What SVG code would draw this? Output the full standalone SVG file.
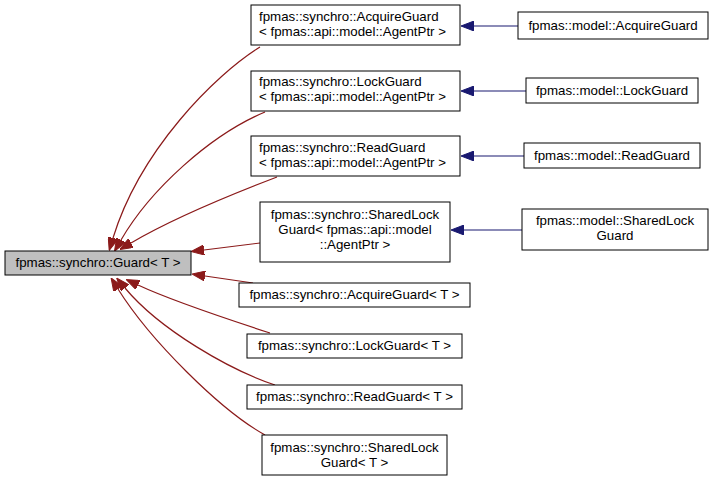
<svg xmlns="http://www.w3.org/2000/svg" width="712" height="481" viewBox="0 0 712 481">
<defs>
<style>
.n rect{fill:#fff;stroke:#000;stroke-width:1}
.n text{font-family:"Liberation Sans",Arial,sans-serif;font-size:13.3px;fill:#000}
.c{text-anchor:middle}
.e{fill:none;stroke-width:1.2}
.r{stroke:#8b1a1a;marker-end:url(#ar)}
.b{stroke:#191970;marker-end:url(#ab)}
</style>
<marker id="ar" viewBox="0 0 13 10" refX="0" refY="5" markerWidth="13" markerHeight="10" markerUnits="userSpaceOnUse" orient="auto"><path d="M0,0L13,5L0,10z" fill="#8b1a1a" stroke="#8b1a1a"/></marker>
<marker id="ab" viewBox="0 0 13 10" refX="0" refY="5" markerWidth="13" markerHeight="10" markerUnits="userSpaceOnUse" orient="auto"><path d="M0,0L13,5L0,10z" fill="#191970" stroke="#191970"/></marker>
</defs>
<rect width="712" height="481" fill="#fff"/>
<g id="connectors">
<path class="e r" d="M260,47C215,75 140,150 113,238"/>
<path class="e r" d="M265,112C210,135 150,190 121,240"/>
<path class="e r" d="M277,177C230,195 170,220 131,243"/>
<path class="e r" d="M260,243L204,250"/>
<path class="e r" d="M253,283L205,276"/>
<path class="e r" d="M270,333C230,320 170,300 138,285"/>
<path class="e r" d="M275,385C230,370 160,330 125,288"/>
<path class="e r" d="M265,435C220,410 150,340 118,289"/>
<path class="e b" d="M518,26L474,26"/>
<path class="e b" d="M526,91L474,91"/>
<path class="e b" d="M524,156L474,156"/>
<path class="e b" d="M522,230L464,230"/>
</g>
<g id="guard" class="n"><rect x="5" y="251" width="186" height="24" style="fill:#bfbfbf"/><text class="c" x="98" y="267">fpmas::synchro::Guard&lt; T &gt;</text></g>
<g id="acquire_agent" class="n"><rect x="251" y="5" width="209" height="40"/><text x="259" y="21">fpmas::synchro::AcquireGuard</text><text x="259" y="36">&lt; fpmas::api::model::AgentPtr &gt;</text></g>
<g id="lock_agent" class="n"><rect x="251" y="71" width="209" height="40"/><text x="259" y="86">fpmas::synchro::LockGuard</text><text x="259" y="101">&lt; fpmas::api::model::AgentPtr &gt;</text></g>
<g id="read_agent" class="n"><rect x="251" y="136" width="209" height="40"/><text x="259" y="152">fpmas::synchro::ReadGuard</text><text x="259" y="167">&lt; fpmas::api::model::AgentPtr &gt;</text></g>
<g id="shared_agent" class="n"><rect x="260" y="202" width="190" height="60"/><text class="c" x="355" y="219">fpmas::synchro::SharedLock</text><text class="c" x="355" y="234">Guard&lt; fpmas::api::model</text><text class="c" x="355" y="249">::AgentPtr &gt;</text></g>
<g id="acquire_t" class="n"><rect x="239" y="283" width="231" height="24"/><text class="c" x="354.5" y="299">fpmas::synchro::AcquireGuard&lt; T &gt;</text></g>
<g id="lock_t" class="n"><rect x="247" y="334" width="215" height="24"/><text class="c" x="354.5" y="350">fpmas::synchro::LockGuard&lt; T &gt;</text></g>
<g id="read_t" class="n"><rect x="247" y="385" width="215" height="24"/><text class="c" x="354.5" y="401">fpmas::synchro::ReadGuard&lt; T &gt;</text></g>
<g id="shared_t" class="n"><rect x="262" y="435" width="185" height="40"/><text class="c" x="354.5" y="452">fpmas::synchro::SharedLock</text><text class="c" x="354.5" y="467">Guard&lt; T &gt;</text></g>
<g id="model_acquire" class="n"><rect x="518" y="12" width="190" height="27"/><text class="c" x="613" y="30">fpmas::model::AcquireGuard</text></g>
<g id="model_lock" class="n"><rect x="526" y="78" width="172" height="25"/><text class="c" x="612" y="95">fpmas::model::LockGuard</text></g>
<g id="model_read" class="n"><rect x="524" y="143" width="176" height="25"/><text class="c" x="612" y="160">fpmas::model::ReadGuard</text></g>
<g id="model_shared" class="n"><rect x="522" y="209" width="186" height="41"/><text class="c" x="615" y="225">fpmas::model::SharedLock</text><text class="c" x="615" y="240">Guard</text></g>
</svg>
